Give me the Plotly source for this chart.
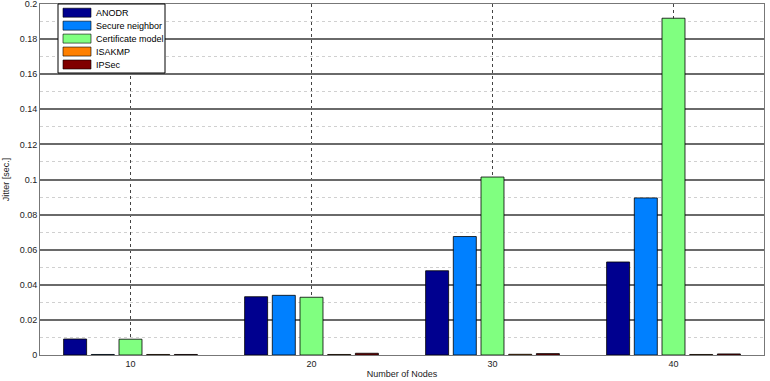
import plotly.graph_objects as go

nodes = [10, 20, 30, 40]
anodr = [0.0091, 0.0332, 0.0480, 0.0530]
secure_neighbor = [0.0003, 0.0340, 0.0675, 0.0895]
certificate_model = [0.0090, 0.0329, 0.1014, 0.1919]
isakmp = [0.0003, 0.0003, 0.0004, 0.0003]
ipsec = [0.0003, 0.0010, 0.0008, 0.0006]

series_names = ["ANODR", "Secure neighbor", "Certificate model", "ISAKMP", "IPSec"]
series_values = [anodr, secure_neighbor, certificate_model, isakmp, ipsec]
series_colors = ["#00008F", "#0080FF", "#80FF80", "#FF8000", "#800000"]

W, H = 770, 381
L, R, T, B = 40, 6, 4, 26
PW, PH = W - L - R, H - T - B

def px(x):
    return (x - L) / PW

def py(y):
    return (H - B - y) / PH

fig = go.Figure()
for name, vals, col in zip(series_names, series_values, series_colors):
    fig.add_trace(go.Bar(x=nodes, y=vals, name=name, showlegend=False,
                         marker=dict(color=col, line=dict(color="#000000", width=0.8))))

font = "Liberation Sans, Arial, sans-serif"

# custom compact legend (MATLAB style)
shapes = [dict(type="rect", xref="paper", yref="paper", x0=px(58), x1=px(165), y0=py(73), y1=py(4),
               fillcolor="white", line=dict(color="#000", width=1), layer="above")]
annotations = []
for i, (name, col) in enumerate(zip(series_names, series_colors)):
    cy = 12.7 + i * 12.95
    shapes.append(dict(type="rect", xref="paper", yref="paper", x0=px(63), x1=px(91),
                       y0=py(cy + 4.5), y1=py(cy - 4.5), fillcolor=col,
                       line=dict(color="#000", width=0.6), layer="above"))
    annotations.append(dict(xref="paper", yref="paper", x=px(94), y=py(cy), text=name,
                            showarrow=False, xanchor="left", yanchor="middle",
                            font=dict(size=9, family=font, color="#000")))

fig.update_layout(
    width=W, height=H,
    margin=dict(l=L, r=R, t=T, b=B, autoexpand=False),
    paper_bgcolor="white", plot_bgcolor="white",
    barmode="group", bargap=0.235, bargroupgap=0.17,
    font=dict(family=font, size=9, color="#222"),
    showlegend=False,
    shapes=shapes, annotations=annotations,
    xaxis=dict(range=[5, 45], tickvals=nodes, ticktext=[str(n) for n in nodes],
               showgrid=True, gridcolor="#444", griddash="dot", gridwidth=1,
               showline=True, linecolor="#777", mirror=True, ticks="", zeroline=False,
               title=dict(text="Number of Nodes", font=dict(size=9), standoff=2),
               tickfont=dict(size=9)),
    yaxis=dict(range=[0, 0.2], dtick=0.02, tickformat="~g", ticklabeloverflow="allow",
               showgrid=True, gridcolor="#6a6a6a", gridwidth=1.5,
               minor=dict(dtick=0.01, showgrid=True, gridcolor="#d0d0d0", griddash="dot", gridwidth=1),
               showline=True, linecolor="#777", mirror=True, ticks="", zeroline=False,
               title=dict(text="Jitter [sec.]", font=dict(size=9), standoff=8),
               tickfont=dict(size=9)),
)
fig.write_html("out.html", config={"displayModeBar": False},
               post_script="document.body.style.margin='0';")
